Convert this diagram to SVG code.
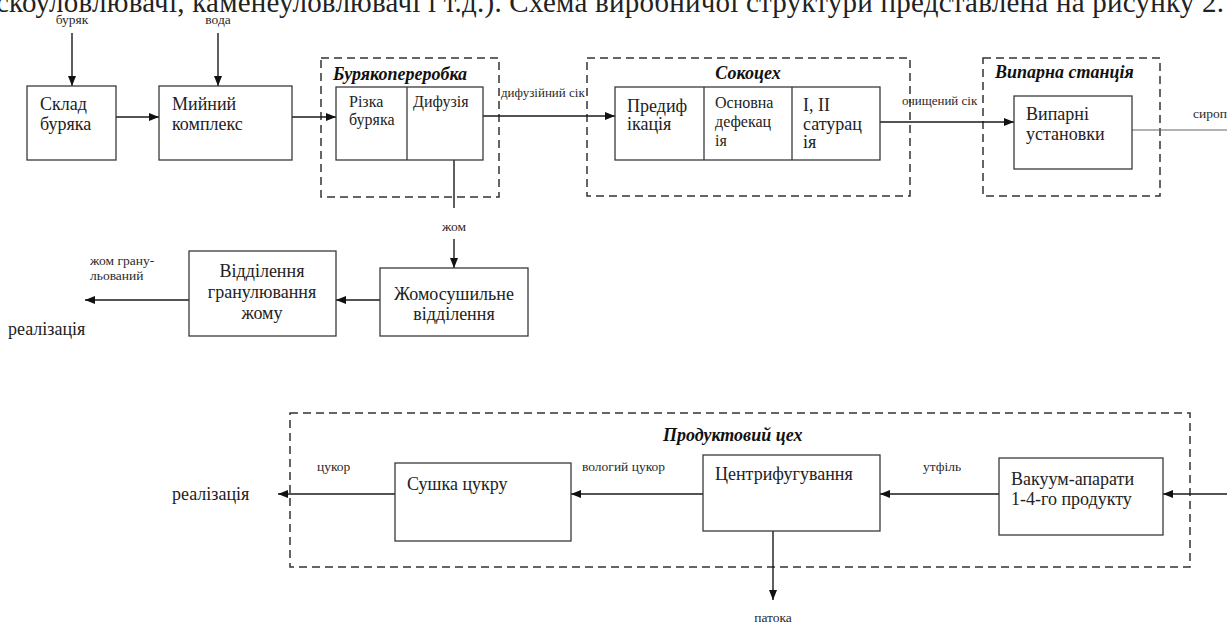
<svg xmlns="http://www.w3.org/2000/svg" width="1227" height="626" viewBox="0 0 1227 626">
  <defs>
    <marker id="arrow" markerUnits="userSpaceOnUse" markerWidth="10" markerHeight="8" viewBox="0 0 10 8" refX="10" refY="4" orient="auto">
      <path d="M0,0 L10,4 L0,8 z" fill="#111"/>
    </marker>
    <style>
      .t { font-family: "Liberation Serif", "Times New Roman", serif; fill: #222; }
      .bt { font-size: 18px; }
      .st { font-size: 16px; }
      .lbl { font-size: 13.5px; fill: #2a2a2a; }
      .sm { font-size: 13px; }
      .ttl { font-size: 18px; font-weight: bold; font-style: italic; fill: #111; }
      .box { fill: #fff; stroke: #3a3a3a; stroke-width: 1.3; }
      .div { stroke: #3a3a3a; stroke-width: 1.3; }
      .grp { fill: none; stroke: #333; stroke-width: 1.5; stroke-dasharray: 8 5; }
      .ln { fill: none; stroke: #1a1a1a; stroke-width: 1.4; }
      .thin { fill: none; stroke: #666; stroke-width: 1; }
    </style>
  </defs>

  <rect width="1227" height="626" fill="#fff"/>

  <!-- paragraph line above the figure, cut by the top edge -->
  <text class="t" x="-4" y="12" font-size="29" fill="#111" textLength="1228" lengthAdjust="spacing">скоуловлювачі, каменеуловлювачі і т.д.). Схема виробничої структури представлена на рисунку 2.</text>

  <!-- department frames -->
  <g id="dept-buriakopererobka">
    <rect class="grp" x="321" y="58" width="178" height="139"/>
    <text class="t ttl" x="333" y="80">Бурякопереробка</text>
  </g>
  <g id="dept-sokotseh">
    <rect class="grp" x="587" y="58" width="323" height="138"/>
    <text class="t ttl" x="748" y="79" text-anchor="middle">Сокоцех</text>
  </g>
  <g id="dept-vyparna">
    <rect class="grp" x="983" y="58" width="177" height="138"/>
    <text class="t ttl" x="995" y="78">Випарна станція</text>
  </g>
  <g id="dept-produktovyi">
    <rect class="grp" x="290" y="413" width="900" height="154"/>
    <text class="t ttl" x="663" y="441">Продуктовий цех</text>
  </g>

  <!-- connectors -->
  <g id="connectors">
    <line class="ln" x1="72" y1="33" x2="72" y2="86" marker-end="url(#arrow)"/>
    <line class="ln" x1="218" y1="33" x2="218" y2="86" marker-end="url(#arrow)"/>
    <line class="ln" x1="116" y1="117" x2="159" y2="117" marker-end="url(#arrow)"/>
    <line class="ln" x1="292" y1="117" x2="336" y2="117" marker-end="url(#arrow)"/>
    <line class="ln" x1="483" y1="116" x2="615" y2="116" marker-end="url(#arrow)"/>
    <line class="ln" x1="880" y1="122" x2="1014" y2="122" marker-end="url(#arrow)"/>
    <line class="thin" x1="1132" y1="130" x2="1227" y2="130"/>
    <line class="ln" x1="454" y1="160" x2="454" y2="208"/>
    <line class="ln" x1="454" y1="239" x2="454" y2="268" marker-end="url(#arrow)"/>
    <line class="ln" x1="380" y1="300" x2="336" y2="300" marker-end="url(#arrow)"/>
    <line class="ln" x1="189" y1="300" x2="85" y2="300" marker-end="url(#arrow)"/>
    <line class="ln" x1="1227" y1="494" x2="1163" y2="494" marker-end="url(#arrow)"/>
    <line class="ln" x1="999" y1="494" x2="880" y2="494" marker-end="url(#arrow)"/>
    <line class="ln" x1="703" y1="494" x2="571" y2="494" marker-end="url(#arrow)"/>
    <line class="ln" x1="395" y1="494" x2="278" y2="494" marker-end="url(#arrow)"/>
    <line class="ln" x1="773" y1="531" x2="773" y2="600" marker-end="url(#arrow)"/>

    <text class="t lbl" x="72" y="24" text-anchor="middle">буряк</text>
    <text class="t lbl" x="218" y="24" text-anchor="middle">вода</text>
    <text class="t lbl sm" x="501" y="97">дифузійний сік</text>
    <text class="t lbl sm" x="902" y="105">очищений сік</text>
    <text class="t lbl" x="1193" y="118">сироп</text>
    <text class="t lbl" x="454" y="231" text-anchor="middle">жом</text>
    <text class="t lbl" x="90" y="265">жом грану-</text>
    <text class="t lbl" x="90" y="280">льований</text>
    <text class="t bt" x="8" y="335">реалізація</text>
    <text class="t lbl" x="317" y="471">цукор</text>
    <text class="t lbl" x="582" y="471">вологий цукор</text>
    <text class="t lbl" x="923" y="471">утфіль</text>
    <text class="t bt" x="172" y="500">реалізація</text>
    <text class="t lbl" x="773" y="622" text-anchor="middle">патока</text>
  </g>

  <!-- nodes -->
  <g id="sklad-buriaka">
    <rect class="box" x="27" y="86" width="89" height="74"/>
    <text class="t bt" x="40" y="110">Склад</text>
    <text class="t bt" x="40" y="130">буряка</text>
  </g>
  <g id="myinyi-kompleks">
    <rect class="box" x="159" y="86" width="133" height="74"/>
    <text class="t bt" x="172" y="110">Мийний</text>
    <text class="t bt" x="172" y="130">комплекс</text>
  </g>
  <g id="rizka-dyfuziia">
    <rect class="box" x="336" y="87" width="147" height="73"/>
    <line class="div" x1="407" y1="87" x2="407" y2="160"/>
    <text class="t st" x="349" y="107">Різка</text>
    <text class="t st" x="349" y="125">буряка</text>
    <text class="t st" x="413" y="107">Дифузія</text>
  </g>
  <g id="ochyshchennia">
    <rect class="box" x="615" y="87" width="265" height="73"/>
    <line class="div" x1="704" y1="87" x2="704" y2="160"/>
    <line class="div" x1="792" y1="87" x2="792" y2="160"/>
    <text class="t bt" x="627" y="112">Предиф</text>
    <text class="t bt" x="627" y="130">ікація</text>
    <text class="t st" x="715" y="108">Основна</text>
    <text class="t st" x="715" y="127">дефекац</text>
    <text class="t st" x="715" y="146">ія</text>
    <text class="t bt" x="803" y="111">I, II</text>
    <text class="t bt" x="803" y="130">сатурац</text>
    <text class="t bt" x="803" y="148">ія</text>
  </g>
  <g id="vyparni-ustanovky">
    <rect class="box" x="1014" y="96" width="118" height="73"/>
    <text class="t bt" x="1026" y="120">Випарні</text>
    <text class="t bt" x="1026" y="140">установки</text>
  </g>
  <g id="zhomosushylne">
    <rect class="box" x="380" y="268" width="148" height="68"/>
    <text class="t bt" x="454" y="300" text-anchor="middle">Жомосушильне</text>
    <text class="t bt" x="454" y="320" text-anchor="middle">відділення</text>
  </g>
  <g id="hranuliuvannia">
    <rect class="box" x="189" y="251" width="147" height="85"/>
    <text class="t bt" x="262" y="277" text-anchor="middle">Відділення</text>
    <text class="t bt" x="262" y="298" text-anchor="middle">гранулювання</text>
    <text class="t bt" x="262" y="319" text-anchor="middle">жому</text>
  </g>
  <g id="sushka-tsukru">
    <rect class="box" x="395" y="463" width="176" height="78"/>
    <text class="t bt" x="407" y="490">Сушка цукру</text>
  </g>
  <g id="tsentryfuhuvannia">
    <rect class="box" x="703" y="455" width="177" height="76"/>
    <text class="t bt" x="715" y="480">Центрифугування</text>
  </g>
  <g id="vakuum-aparaty">
    <rect class="box" x="999" y="458" width="164" height="77"/>
    <text class="t bt" x="1011" y="485">Вакуум-апарати</text>
    <text class="t bt" x="1011" y="505">1-4-го продукту</text>
  </g>
</svg>
